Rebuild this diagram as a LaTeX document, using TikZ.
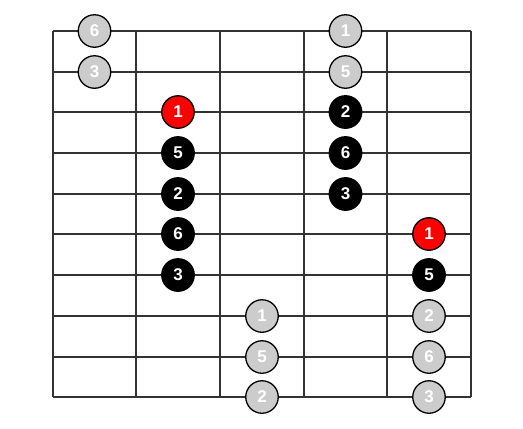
\documentclass[tikz,border=0pt]{standalone}
\usepackage{fontspec}
\setmainfont{Liberation Sans}
\usepackage{tikz}
\usetikzlibrary{positioning}
\usepackage{xcolor}

\definecolor{gridline}{HTML}{333333}
\definecolor{ghost}{HTML}{CCCCCC}

\tikzset{
    note/.style={circle, draw=black, line width=1.3pt, minimum size=32.5pt, inner sep=0pt,
        text=white, font=\fontsize{17}{17}\selectfont\bfseries},
    root/.style={note, fill=red},
    tone/.style={note, fill=black},
    shade/.style={note, fill=ghost}
}

\begin{document}
\begin{tikzpicture}[x=1pt, y=-1pt]
    \useasboundingbox (0,0) rectangle (523,429);

    % strings and frets
    \foreach \x in {53,136,220,304,387,471}
        \draw[line width=2pt, color=gridline] (\x,31) -- (\x,397);
    \foreach \y in {31,72,112,153,194,234,275,316,357,397}
        \draw[line width=2pt, color=gridline] (53,\y) -- (471,\y);

    % column 1
    \node[shade] (a6) at (94.5,31) {6};
    \node[shade] (a3) at (94.5,72) {3};

    % column 2
    \node[root] (b1) at (178,112) {1};
    \node[tone] (b5) at (178,153) {5};
    \node[tone] (b2) at (178,194) {2};
    \node[tone] (b6) at (178,234) {6};
    \node[tone] (b3) at (178,275) {3};

    % column 3
    \node[shade] (c1) at (262,316) {1};
    \node[shade] (c5) at (262,357) {5};
    \node[shade] (c2) at (262,397) {2};

    % column 4
    \node[shade] (d1) at (345.5,31) {1};
    \node[shade] (d5) at (345.5,72) {5};
    \node[tone] (d2) at (345.5,112) {2};
    \node[tone] (d6) at (345.5,153) {6};
    \node[tone] (d3) at (345.5,194) {3};

    % column 5
    \node[root] (e1) at (429,234) {1};
    \node[tone] (e5) at (429,275) {5};
    \node[shade] (e2) at (429,316) {2};
    \node[shade] (e6) at (429,357) {6};
    \node[shade] (e3) at (429,397) {3};
\end{tikzpicture}
\end{document}
